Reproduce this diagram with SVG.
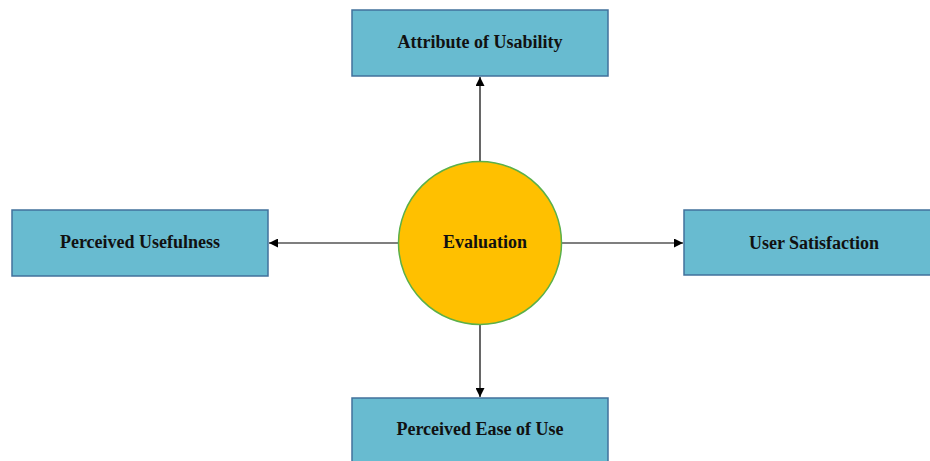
<svg xmlns="http://www.w3.org/2000/svg" width="930" height="461" viewBox="0 0 930 461">
<defs>
<style>
.box{fill:#68BBD0;stroke:#41719C;stroke-width:1.5}
.lbl{font-family:"Liberation Serif","Times New Roman",serif;font-weight:bold;font-size:18px;fill:#111;text-anchor:middle}
.con{stroke:#000;stroke-width:1.2;fill:none;marker-end:url(#ah)}
</style>
<marker id="ah" viewBox="0 0 10 10" refX="10" refY="5" markerWidth="9" markerHeight="9" markerUnits="userSpaceOnUse" orient="auto">
<path d="M0,0 L10,5 L0,10 z" fill="#000"/>
</marker>
</defs>
<rect width="930" height="461" fill="#fff"/>
<g id="connectors">
<line class="con" x1="480" y1="162" x2="480" y2="77"/>
<line class="con" x1="398" y1="243" x2="269" y2="243"/>
<line class="con" x1="562" y1="243" x2="683" y2="243"/>
<line class="con" x1="480" y1="324" x2="480" y2="397"/>
</g>
<g id="attribute">
<rect class="box" x="352" y="10" width="256" height="66"/>
<text class="lbl" x="480" y="48">Attribute of Usability</text>
</g>
<g id="usefulness">
<rect class="box" x="12" y="210" width="256" height="66"/>
<text class="lbl" x="140" y="248">Perceived Usefulness</text>
</g>
<g id="satisfaction">
<rect class="box" x="684" y="210" width="260" height="65"/>
<text class="lbl" x="814" y="249">User Satisfaction</text>
</g>
<g id="ease">
<rect class="box" x="352" y="398" width="256" height="70"/>
<text class="lbl" x="480" y="435">Perceived Ease of Use</text>
</g>
<g id="evaluation">
<circle cx="480" cy="243" r="81.5" fill="#FFC000" stroke="#5BB04A" stroke-width="1.5"/>
<text class="lbl" x="485" y="248">Evaluation</text>
</g>
</svg>
